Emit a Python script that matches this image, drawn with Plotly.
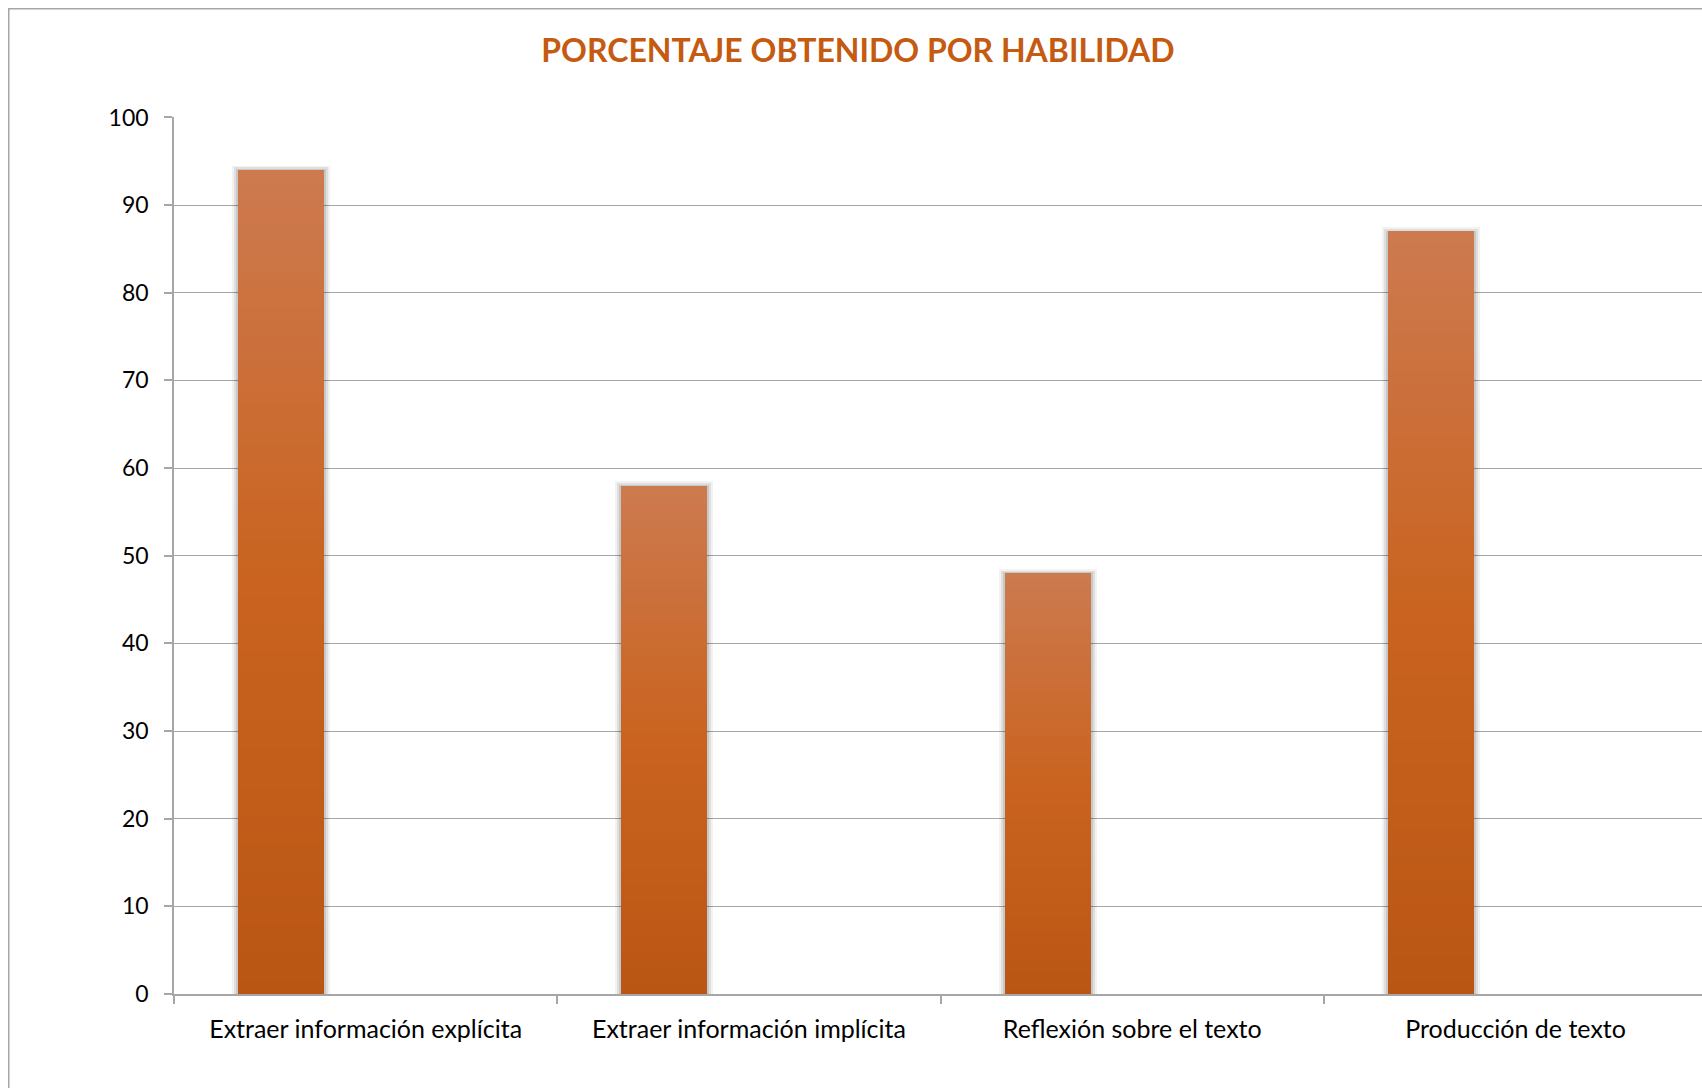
import plotly.graph_objects as go
import numpy as np

# ---- data ----
categories = ["Extraer información explícita", "Extraer información implícita",
              "Reflexión sobre el texto", "Producción de texto"]
values = [94, 58, 48, 87]
y_ticks = [0, 10, 20, 30, 40, 50, 60, 70, 80, 90, 100]
title_text = "PORCENTAJE OBTENIDO POR HABILIDAD"

# ---- layout geometry (pixels; page body margin removed below) ----
W, H = 1702, 1088
ML, MR, MT, MB = 174, 0, 117, 94
plot_w = W - ML - MR
plot_h = H - MT - MB
cat_px = 383.3
x_max = -0.5 + plot_w / cat_px

bar_w = 86 / cat_px
bar_off = -0.5 + 64 / cat_px

FONT = "Lato"

def lerp(c1, c2, t):
    return tuple(c1[i] + (c2[i] - c1[i]) * t for i in range(3))

top_c = (205, 122, 80)
mid_c = (201, 99, 31)
bot_c = (186, 86, 20)

def grad(t):  # t=0 bottom, 1 top
    if t < 0.5:
        c = lerp(bot_c, mid_c, t / 0.5)
    else:
        c = lerp(mid_c, top_c, (t - 0.5) / 0.5)
    return "rgb(%d,%d,%d)" % tuple(int(round(v)) for v in c)

fig = go.Figure()

# soft shadow behind bars
for extra, alpha, lift in [(12, 0.05, 0.5), (8, 0.08, 0.3), (4, 0.10, 0.1)]:
    fig.add_trace(go.Bar(
        x=categories, y=[v + lift for v in values],
        width=bar_w + extra / cat_px, offset=bar_off - extra / 2 / cat_px,
        marker=dict(color="rgba(0,0,0,%g)" % alpha, line=dict(width=0)),
        hoverinfo="skip", showlegend=False))

# gradient bars built as stacked slices of each value
N = 60
vals = np.array(values, dtype=float)
for i in range(N):
    t = (i + 0.5) / N
    fig.add_trace(go.Bar(
        x=categories, y=vals / N * 1.02 if i < N - 1 else vals / N,
        base=vals * i / N,
        width=bar_w, offset=bar_off,
        marker=dict(color=grad(t), line=dict(width=0)),
        hoverinfo="skip", showlegend=False))

fig.update_layout(
    width=W, height=H,
    margin=dict(l=ML, r=MR, t=MT, b=MB),
    paper_bgcolor="white", plot_bgcolor="white",
    barmode="overlay",
    bargap=0,
    showlegend=False,
    title=dict(text="<b>%s</b>" % title_text, x=858 / W, xanchor="center",
               xref="container", y=1 - 51 / H, yanchor="middle", yref="container",
               font=dict(family=FONT, size=32, color="#C55A11")),
    font=dict(family=FONT, color="black"),
)

fig.update_xaxes(
    range=[-0.5, x_max], showgrid=False, showline=True, linecolor="#A6A6A6", linewidth=1.5,
    ticks="outside", tickson="boundaries", ticklen=8, tickcolor="#A6A6A6", tickwidth=1.5,
    tickfont=dict(family=FONT, size=25, color="black"), zeroline=False,
    ticklabelstandoff=12,
)
fig.update_yaxes(
    range=[0, 100.05], tickvals=y_ticks, showgrid=True, gridcolor="#A6A6A6", gridwidth=1.3,
    showline=True, linecolor="#A6A6A6", linewidth=1.5,
    ticks="outside", ticklen=8, tickcolor="#A6A6A6", tickwidth=1.5,
    tickfont=dict(family=FONT, size=23, color="black"), zeroline=False,
    ticklabelstandoff=11,
)

# outer chart frame (extends beyond the visible page at right and bottom)
fig.add_shape(type="rect", xref="paper", yref="paper",
              x0=(8.75 - ML) / plot_w, x1=(W + 20 - ML) / plot_w,
              y0=-(MB + 40) / plot_h, y1=(plot_h + MT - 8.75) / plot_h,
              line=dict(color="#A6A6A6", width=1.5), fillcolor="rgba(0,0,0,0)", layer="below")

fig.write_html("out.html",
               config={"responsive": False, "displayModeBar": False},
               post_script="document.body.style.margin='0';"
                           "document.documentElement.style.overflow='hidden';"
                           "document.body.style.overflow='hidden';")
